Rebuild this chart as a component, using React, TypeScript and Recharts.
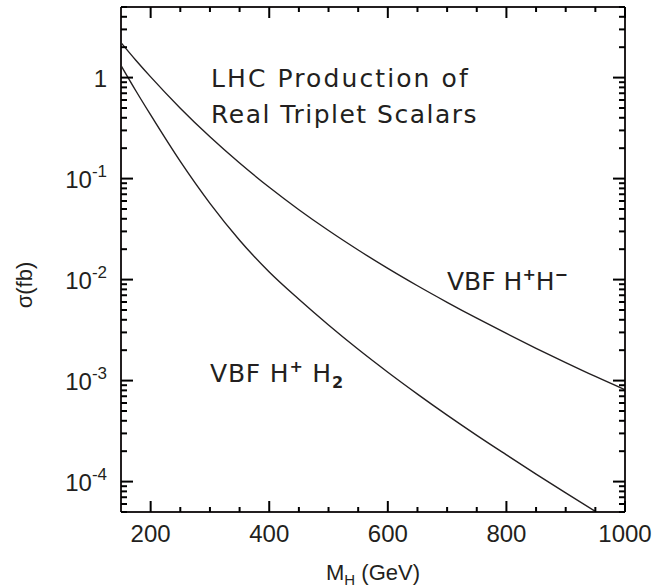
import React from 'react';
import { LineChart, Line, XAxis, YAxis, ReferenceLine } from 'recharts';

// M_H (GeV)
const masses = [150, 175, 200, 250, 300, 350, 400, 450, 500, 550, 600, 650, 700, 750, 800, 850, 900, 950, 1000];
// sigma (fb), VBF H+H-
const sigmaHpHm = [2.22, 1.486, 1.016, 0.498, 0.2594, 0.1426, 0.082, 0.0492, 0.0306, 0.01963, 0.01291, 0.00869, 0.00596, 0.00415, 0.00293, 0.00209, 0.00151, 0.0011, 0.000813];
// sigma (fb), VBF H+ H2
const sigmaHpH2 = [1.318, 0.741, 0.4266, 0.1479, 0.0569, 0.02455, 0.01189, 0.00638, 0.00355, 0.00204, 0.00121, 0.000735, 0.000455, 0.000287, 0.000184, 0.0001186, 0.0000773, 0.0000507, 0.0000335];

const xTicks = [200, 250, 300, 350, 400, 450, 500, 550, 600, 650, 700, 750, 800, 850, 900, 950, 1000];
const xLabels = [200, 400, 600, 800, 1000];
const decades = [1e-5, 1e-4, 1e-3, 1e-2, 1e-1, 1];
const mantissas = [1, 2, 3, 4, 5, 6, 7, 8, 9];

const W = 655;
const H = 588;
const PLOT_L = 121;
const PLOT_R = 625;
const PLOT_T = 7;
const PLOT_B = 512;
const INK = '#231f20';
const TICK = '#000000';
const TW = 2; // tick thickness
const SANS = 'Liberation Sans, Arial';
const ANNO = 'DejaVu Sans, Liberation Sans, Arial';

const yTicks = decades
  .flatMap((d) => mantissas.map((m) => +(m * d).toPrecision(3)))
  .filter((v) => v >= 5e-5 && v <= 5);

const data = masses.map((m, i) => ({ m, hphm: sigmaHpHm[i], hph2: sigmaHpH2[i] }));

// inward ticks on bottom and top edges
function XTick(props: any) {
  const { x, payload } = props;
  const major = xLabels.includes(payload.value);
  const len = major ? 11 : 5;
  return (
    <g>
      <line x1={x} x2={x} y1={PLOT_B} y2={PLOT_B - len} stroke={TICK} strokeWidth={TW} />
      <line x1={x} x2={x} y1={PLOT_T} y2={PLOT_T + len} stroke={TICK} strokeWidth={TW} />
      {major && (
        <text x={x} y={542} textAnchor="middle" fontSize={24} fontFamily={SANS} fill={INK}>
          {payload.value}
        </text>
      )}
    </g>
  );
}

// inward ticks on left and right edges
function YTick(props: any) {
  const { y, payload } = props;
  const v = payload.value;
  const e = Math.round(Math.log10(v));
  const major = Math.abs(Math.log10(v) - e) < 1e-6;
  const len = major ? 12 : 6;
  return (
    <g>
      <line x1={PLOT_L} x2={PLOT_L + len} y1={y} y2={y} stroke={TICK} strokeWidth={TW} />
      <line x1={PLOT_R} x2={PLOT_R - len} y1={y} y2={y} stroke={TICK} strokeWidth={TW} />
      {major && (
        <text x={107} y={y + 9} textAnchor="end" fontSize={24} fontFamily={SANS} fill={INK}>
          {e === 0 ? '1' : <>10<tspan fontSize={17} dy={-11}>{e}</tspan></>}
        </text>
      )}
    </g>
  );
}

export default function App() {
  return (
    <div style={{ position: 'absolute', left: 0, top: 0, width: W, height: H, background: '#fff' }}>
      <LineChart width={W} height={H} data={data} margin={{ top: 7, right: 30, left: 0, bottom: 0 }}>
        <XAxis dataKey="m" type="number" domain={[150, 1000]} ticks={xTicks} interval={0} tickLine={false}
          axisLine={{ stroke: INK, strokeWidth: 2 }} height={76} tick={<XTick />} />
        <YAxis type="number" scale="log" domain={[5e-5, 5]} allowDataOverflow ticks={yTicks} interval={0}
          tickLine={false} axisLine={{ stroke: INK, strokeWidth: 2 }} width={121} tick={<YTick />} />
        <ReferenceLine y={5} stroke={INK} strokeWidth={2} />
        <ReferenceLine x={1000} stroke={INK} strokeWidth={2} />
        <Line type="monotone" dataKey="hphm" stroke={INK} strokeWidth={1.4} dot={false} isAnimationActive={false} />
        <Line type="monotone" dataKey="hph2" stroke={INK} strokeWidth={1.4} dot={false} isAnimationActive={false} />
      </LineChart>

      <svg width={W} height={H} style={{ position: 'absolute', left: 0, top: 0, pointerEvents: 'none' }}>
        <text x={211} y={87} fontSize={25} letterSpacing={2.1} fontFamily={ANNO} fill={INK}>LHC Production of</text>
        <text x={211} y={123} fontSize={25} letterSpacing={1.5} fontFamily={ANNO} fill={INK}>Real Triplet Scalars</text>
        <text x={447} y={290} fontSize={25} fontFamily={ANNO} fill={INK}>
          VBF H<tspan fontSize={16} dy={-10} fontWeight="bold">+</tspan>
          <tspan dy={10}>H</tspan>
          <tspan fontSize={16} dy={-10} fontWeight="bold">−</tspan>
        </text>
        <text x={210} y={382} fontSize={25} letterSpacing={0.8} fontFamily={ANNO} fill={INK}>
          VBF H<tspan fontSize={16} dy={-10} fontWeight="bold">+</tspan>
          <tspan dy={10}> H</tspan>
          <tspan fontSize={16} dy={6} fontWeight="bold">2</tspan>
        </text>
        <text x={373} y={580} textAnchor="middle" fontSize={22} fontFamily={SANS} fill={INK}>
          M<tspan fontSize={15} dy={5}>H</tspan>
          <tspan dy={-5}> (GeV)</tspan>
        </text>
        <text transform="translate(32 285) rotate(-90)" textAnchor="middle" fontSize={22} fontFamily={SANS} fill={INK}>
          σ(fb)
        </text>
      </svg>
    </div>
  );
}
